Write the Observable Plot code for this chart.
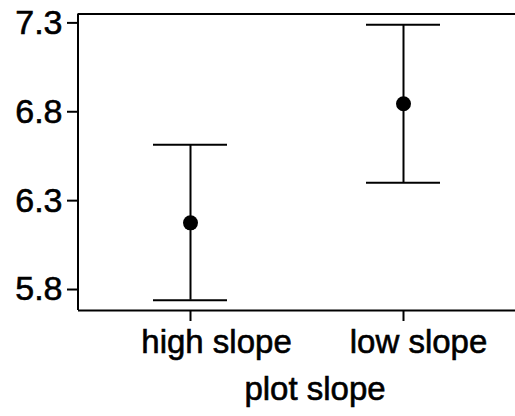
<!DOCTYPE html>
<html><head><meta charset="utf-8">
<script src="https://cdn.jsdelivr.net/npm/d3@7"></script>
<script src="https://cdn.jsdelivr.net/npm/@observablehq/plot@0.6"></script>
<style>html,body{margin:0;padding:0;background:#fff;overflow:hidden} svg{display:block} svg text{stroke:#000;stroke-width:0.6px}</style>
</head><body><div id="chart"></div>
<script>
const categories = ["high slope", "low slope"];
const means = [6.175, 6.845];
const lows = [5.74, 6.40];
const highs = [6.615, 7.29];
const yTicks = [5.8, 6.3, 6.8, 7.3];
const yDomain = [5.682, 7.35];
const xLabel = "plot slope";

const data = categories.map((c, i) => ({cat: c, mean: means[i], lo: lows[i], hi: highs[i]}));

// left axis line drawn from Plot's own frame dimensions
const leftLine = (index, scales, values, dims) => {
  const g = d3.create("svg:g");
  g.append("line")
    .attr("x1", dims.marginLeft).attr("x2", dims.marginLeft)
    .attr("y1", dims.marginTop).attr("y2", dims.height - dims.marginBottom)
    .attr("stroke", "#000").attr("stroke-width", 2);
  return g.node();
};

const labelShift = [26, 15];

const chart = Plot.plot({
  width: 515, height: 416,
  marginTop: 13.5, marginBottom: 106, marginLeft: 78, marginRight: 0,
  style: {fontFamily: "'Liberation Sans', Arial, sans-serif", fontSize: "32px", color: "#000", background: "#fff"},
  x: {type: "band", domain: categories, paddingInner: 0.653, paddingOuter: 0.352},
  y: {domain: yDomain},
  marks: [
    leftLine,
    Plot.ruleY(yDomain, {strokeWidth: 2}),
    Plot.axisY({ticks: yTicks, tickFormat: d3.format(".1f"), tickSize: 11, tickPadding: 5, strokeWidth: 2, label: null, fontSize: 34}),
    Plot.axisX({tickSize: 11, tickFormat: () => "", strokeWidth: 2, label: null}),
    ...categories.map((c, i) => Plot.text(data, {filter: d => d.cat === c, x: "cat", text: "cat", frameAnchor: "bottom", lineAnchor: "top", dy: 19, dx: labelShift[i], fontSize: 33})),
    Plot.ruleX(data, {x: "cat", y1: "lo", y2: "hi", strokeWidth: 2}),
    Plot.tickY(data, {x: "cat", y: "lo", strokeWidth: 2}),
    Plot.tickY(data, {x: "cat", y: "hi", strokeWidth: 2}),
    Plot.dot(data, {x: "cat", y: "mean", r: 7.5, fill: "#000", stroke: "none"}),
    Plot.text([xLabel], {frameAnchor: "bottom", dy: 89, dx: 18, fontSize: 33})
  ]
});
document.getElementById("chart").appendChild(chart);
</script>
</body></html>
